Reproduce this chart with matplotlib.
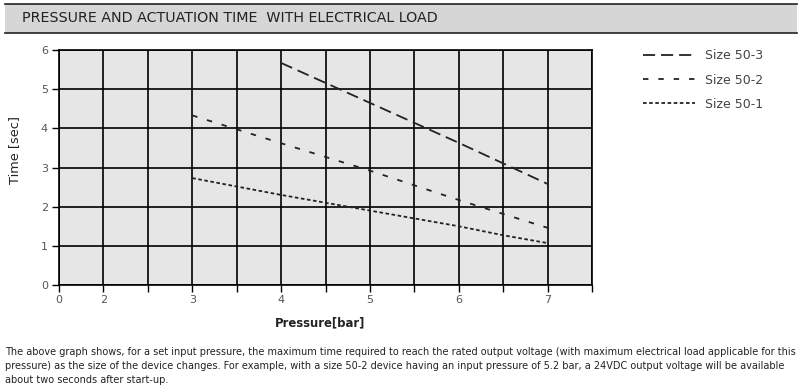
import numpy as np
import matplotlib
matplotlib.use("Agg")
import matplotlib.pyplot as plt
from matplotlib.patches import Rectangle
from matplotlib.lines import Line2D

# data
p_503 = [4, 5, 6, 7]
t_503 = [5.67, 4.65, 3.63, 2.58]
p_502 = [3, 4, 5, 6, 7]
t_502 = [4.33, 3.62, 2.92, 2.17, 1.46]
p_501 = [3, 4, 5, 6, 6.5, 7]
t_501 = [2.73, 2.30, 1.90, 1.50, 1.27, 1.07]

x_labels = ["0", "2", "", "3", "", "4", "", "5", "", "6", "", "7", ""]
x_grid = [0, 2, 2.5, 3, 3.5, 4, 4.5, 5, 5.5, 6, 6.5, 7, 7.5]
y_ticks = [0, 1, 2, 3, 4, 5, 6]

footer = [
    "The above graph shows, for a set input pressure, the maximum time required to reach the rated output voltage (with maximum electrical load applicable for this",
    "pressure) as the size of the device changes. For example, with a size 50-2 device having an input pressure of 5.2 bar, a 24VDC output voltage will be available",
    "about two seconds after start-up.",
]


# the x axis is squeezed between 0 and 2, then linear
def fwd(p):
    p = np.asarray(p, dtype=float)
    return np.where(p <= 2, p / 2, 2 * p - 3)


def inv(u):
    u = np.asarray(u, dtype=float)
    return np.where(u <= 1, 2 * u, (u + 3) / 2)


fig = plt.figure(figsize=(8.02, 3.92), dpi=100)
W, H = 802, 392
renderer = fig.canvas.get_renderer()


def fit(t, length_px):
    # shrink/grow font so the text runs length_px along its baseline
    bb = t.get_window_extent(renderer)
    t.set_fontsize(t.get_fontsize() * length_px / max(bb.width, bb.height))


# title band
fig.patches.append(Rectangle((5 / W, 1 - 33 / H), 792 / W, 29 / H, transform=fig.transFigure,
                             facecolor="#d6d6d6", edgecolor="none", zorder=0))
for yy in (4, 33):
    fig.lines.append(Line2D([5 / W, 797 / W], [1 - yy / H] * 2, transform=fig.transFigure,
                            color="#222222", lw=1.2))
title = fig.text(22 / W, 1 - 18 / H, "PRESSURE AND ACTUATION TIME  WITH ELECTRICAL LOAD",
                 fontsize=10, color="#222222", va="center", ha="left")
fit(title, 416)

ax = fig.add_axes([59 / W, 1 - 285 / H, 533 / W, 235 / H])
ax.set_facecolor("#e6e6e6")
ax.set_xscale("function", functions=(fwd, inv))
ax.set_xlim(0, 7.5)
ax.set_ylim(0, 6)
ax.set_xticks(x_grid)
ax.set_xticklabels(x_labels)
ax.set_yticks(y_ticks)
ax.grid(True, color="black", lw=1.2)
ax.set_axisbelow(True)
for s in ax.spines.values():
    s.set_color("black")
    s.set_linewidth(1.2)
ax.tick_params(axis="both", length=5, width=1.0, color="black", labelsize=8, labelcolor="#555555")
ax.tick_params(axis="x", pad=2)
ax.tick_params(axis="y", pad=3)

lc = "#222222"
l3, = ax.plot(p_503, t_503, color=lc, lw=1.3, dashes=(6.7, 3.3), label="Size 50-3")
l2, = ax.plot(p_502, t_502, color=lc, lw=1.3, dashes=(3.0, 5.5), label="Size 50-2")
l1, = ax.plot(p_501, t_501, color=lc, lw=1.3, dashes=(2.0, 1.4), label="Size 50-1")

xl = ax.set_xlabel("Pressure[bar]", fontsize=9, color="#222222", fontweight="semibold")
yl = ax.set_ylabel("Time [sec]", fontsize=9, color="#222222", fontweight="medium")
fit(xl, 90)
fit(yl, 68)
ax.xaxis.set_label_coords((320 - 59) / 533, -(323 - 285) / 235)
ax.yaxis.set_label_coords(-(59 - 15) / 533, (285 - 150) / 235)
xl.set_va("center")
yl.set_va("center")

fig.legend(handles=[l3, l2, l1], loc="upper left", bbox_to_anchor=(632 / W, 1 - 38 / H),
           frameon=False, fontsize=9, handlelength=4.1, labelspacing=0.9,
           handletextpad=0.85, labelcolor="#444444")

for i, line in enumerate(footer):
    t = fig.text(5 / W, 1 - (352 + i * 14) / H, line, fontsize=8.6, color="#222222",
                 va="center", ha="left")
    if i == 0:
        fit(t, 786)
        fs = t.get_fontsize()
    else:
        t.set_fontsize(fs)

fig.savefig("out.png", dpi=100)
